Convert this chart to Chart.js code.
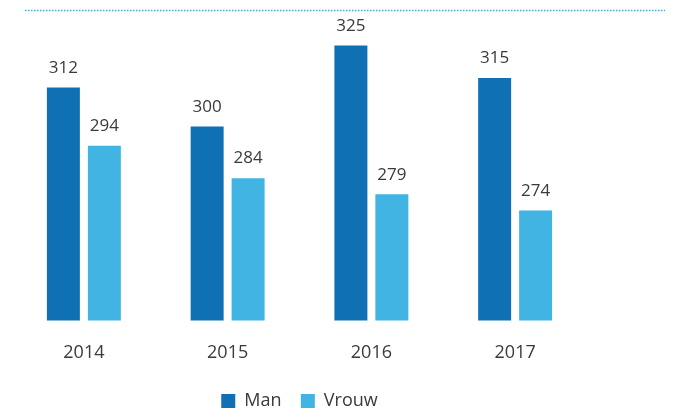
<!DOCTYPE html>
<html>
<head>
<meta charset="utf-8">
<script src="https://cdn.jsdelivr.net/npm/chart.js@4"></script>
<style>
  html, body { margin: 0; padding: 0; background: #fff; }
  #wrap { width: 687px; height: 413px; }
</style>
</head>
<body>
<div id="wrap"><canvas id="myChart" width="687" height="413"></canvas></div>
<script>
// Data
const years = ['2014', '2015', '2016', '2017'];
const manValues = [312, 300, 325, 315];
const vrouwValues = [294, 284, 279, 274];

const textColor = '#3a3a3a';
const fontFamily = "'Open Sans', 'Noto Sans', sans-serif";

// draws the value above every bar
const valueLabels = {
  id: 'valueLabels',
  afterDatasetsDraw(chart) {
    const ctx = chart.ctx;
    ctx.save();
    ctx.font = '17px ' + fontFamily;
    ctx.fillStyle = textColor;
    ctx.textAlign = 'center';
    ctx.textBaseline = 'bottom';
    chart.data.datasets.forEach((ds, i) => {
      chart.getDatasetMeta(i).data.forEach((bar, j) => {
        ctx.fillText(ds.data[j], bar.x, bar.y - 11);
      });
    });
    ctx.restore();
  }
};

// dotted line on top of the plot
const topLine = {
  id: 'topLine',
  beforeDatasetsDraw(chart) {
    const ctx = chart.ctx;
    const y = chart.chartArea.top + 0.5;
    ctx.save();
    ctx.strokeStyle = '#35b1e2';
    ctx.lineWidth = 1.5;
    ctx.setLineDash([1.5, 1.5]);
    ctx.beginPath();
    ctx.moveTo(chart.chartArea.left + 13, y);
    ctx.lineTo(chart.width - 22, y);
    ctx.stroke();
    ctx.restore();
  }
};

const chart = new Chart(document.getElementById('myChart').getContext('2d'), {
  type: 'bar',
  data: {
    labels: years,
    datasets: [
      {
        label: 'Man',
        data: manValues,
        backgroundColor: '#1070b4',
        categoryPercentage: 0.57,
        barPercentage: 0.805
      },
      {
        label: 'Vrouw',
        data: vrouwValues,
        backgroundColor: '#41b4e3',
        categoryPercentage: 0.57,
        barPercentage: 0.805
      }
    ]
  },
  options: {
    responsive: false,
    animation: false,
    layout: {
      padding: { left: 12, right: 100, top: 10, bottom: -7 }
    },
    plugins: {
      legend: {
        display: true,
        position: 'bottom',
        labels: {
          color: textColor,
          font: { family: fontFamily, size: 18 },
          boxWidth: 14,
          boxHeight: 14,
          padding: 10,
          generateLabels(chart) {
            const items = Chart.defaults.plugins.legend.labels.generateLabels(chart);
            items.forEach((item, i) => {
              item.lineWidth = 0;
              if (i < items.length - 1) item.text = item.text + '  ';
            });
            return items;
          }
        }
      },
      tooltip: { enabled: false }
    },
    scales: {
      x: {
        grid: { display: false },
        border: { display: false },
        ticks: {
          color: textColor,
          font: { family: fontFamily, size: 18 },
          padding: 14
        },
        afterFit(scale) {
          scale.height += 4;
        }
      },
      y: {
        display: false,
        min: 240,
        max: 336
      }
    }
  },
  plugins: [valueLabels, topLine]
});
</script>
</body>
</html>
